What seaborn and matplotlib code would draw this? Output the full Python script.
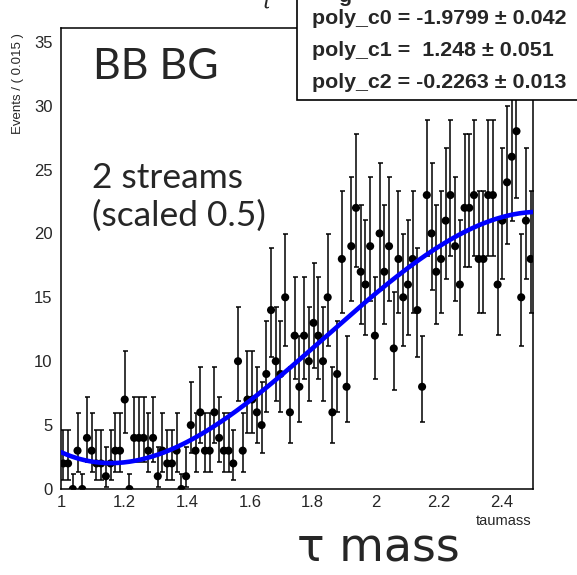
import math
import numpy as np
import pandas as pd
import matplotlib
matplotlib.use("Agg")
import matplotlib.pyplot as plt
from matplotlib.patches import Rectangle
from matplotlib.ticker import MultipleLocator, FormatStrFormatter
import seaborn as sns

# ---------------- data ----------------
x_lo, x_hi = 1.0, 2.5
counts = [2, 2, 0, 3, 0, 4, 3, 2, 2, 1,
          2, 3, 3, 7, 0, 4, 4, 4, 3, 4,
          1, 3, 2, 2, 3, 0, 1, 5, 3, 6,
          3, 3, 6, 4, 3, 3, 2, 10, 3, 7,
          7, 6, 5, 9, 14, 10, 9, 15, 6, 12,
          8, 12, 10, 13, 12, 10, 15, 6, 9, 18,
          8, 19, 22, 17, 16, 19, 12, 20, 17, 19,
          11, 18, 15, 16, 18, 14, 8, 23, 20, 17,
          18, 21, 23, 19, 16, 22, 22, 23, 18, 18,
          23, 23, 16, 21, 24, 26, 28, 15, 21, 18]
poly_names = ["poly_c0", "poly_c1", "poly_c2"]
poly_vals = [-1.9799, 1.248, -0.2263]
poly_val_txt = ["-1.9799", " 1.248", "-0.2263"]
poly_err_txt = ["0.042", "0.051", "0.013"]
x_ticks = [1.0, 1.2, 1.4, 1.6, 1.8, 2.0, 2.2, 2.4]
y_ticks = [0, 5, 10, 15, 20, 25, 30, 35]

nb = len(counts)
bw = (x_hi - x_lo) / nb
centers = x_lo + bw * (np.arange(nb) + 0.5)
counts_arr = np.array(counts, dtype=float)


def pois_cdf(k, mu):
    s, term = 0.0, math.exp(-mu)
    for i in range(k + 1):
        if i > 0:
            term *= mu / i
        s += term
    return s


def bisect(f, a, b):
    for _ in range(80):
        m = 0.5 * (a + b)
        if f(a) * f(m) <= 0:
            b = m
        else:
            a = m
    return 0.5 * (a + b)


def pois_interval(n):
    if n == 0:
        return 0.0, -math.log(1 - 0.6827)
    alpha = (1 - 0.6827) / 2
    up = bisect(lambda mu: pois_cdf(n, mu) - alpha, n, n + 10 * math.sqrt(n) + 10)
    lo = bisect(lambda mu: (1 - pois_cdf(n - 1, mu)) - alpha, 1e-9, n)
    return n - lo, up - n


errs = np.array([pois_interval(int(n)) for n in counts])

# fit curve: N * (1 + c0 x + c1 x^2 + c2 x^3), normalised to data
c0, c1, c2 = poly_vals
def shape(x):
    return 1 + c0 * x + c1 * x ** 2 + c2 * x ** 3
def prim(x):
    return x + c0 * x ** 2 / 2 + c1 * x ** 3 / 3 + c2 * x ** 4 / 4
norm = counts_arr.sum() * bw / (prim(x_hi) - prim(x_lo))
xs = np.linspace(x_lo, x_hi, 400)
curve_df = pd.DataFrame({"x": xs, "y": norm * shape(xs)})
data_df = pd.DataFrame({"x": centers, "y": counts_arr})

# ---------------- plot ----------------
sns.set_style("white")
plt.rcParams["font.family"] = ["Liberation Sans", "DejaVu Sans"]

W, H = 577, 575
fig = plt.figure(figsize=(W / 100, H / 100), dpi=100)
ax = fig.add_axes([61 / W, 1 - 489 / H, 472 / W, (489 - 28.3) / H])

ax.errorbar(data_df["x"], data_df["y"], yerr=[errs[:, 0], errs[:, 1]], fmt="none",
            ecolor="black", elinewidth=1.1, capsize=1.8, capthick=1.1, zorder=2)
sns.scatterplot(data=data_df, x="x", y="y", color="black", s=34, edgecolor="none",
                ax=ax, zorder=3, legend=False)
sns.lineplot(data=curve_df, x="x", y="y", color="#0000ff", lw=3.3, ax=ax, zorder=4,
             legend=False)

ax.set_xlim(x_lo, x_hi)
ax.set_ylim(0, 36.05)
ax.set_xticks(x_ticks)
ax.set_yticks(y_ticks)
ax.xaxis.set_minor_locator(MultipleLocator(0.04))
ax.yaxis.set_minor_locator(MultipleLocator(1))
ax.xaxis.set_major_formatter(FormatStrFormatter("%g"))
ax.tick_params(which="both", direction="in", top=False, right=False, width=1.1,
               labelsize=12)
ax.tick_params(which="major", length=9.5)
ax.tick_params(which="minor", length=4.5)
ax.tick_params(axis="y", pad=6)
ax.tick_params(axis="x", pad=4)
ax.set_xlabel("")
ax.set_ylabel("")
for sp in ax.spines.values():
    sp.set_linewidth(1.1)
    sp.set_color("black")

fig.text(18 / W, 1 - 33 / H, "Events / ( 0.015 )", rotation=90, ha="center", va="top",
         fontsize=9.5)
fig.text(531 / W, 1 - 521 / H, "taumass", ha="right", va="center", fontsize=10.5)

# annotations inside the frame
AH = 489 - 28.3
ax.text((93 - 61) / 472, (489 - 67) / AH, "BB BG", transform=ax.transAxes,
        ha="left", va="center", fontsize=31, family=["Lato", "DejaVu Sans"])
ax.text((92 - 61) / 472, (489 - 178) / AH, "2 streams", transform=ax.transAxes,
        ha="left", va="center", fontsize=25.5, family=["Lato", "DejaVu Sans"])
ax.text((92 - 61) / 472, (489 - 216) / AH, "(scaled 0.5)", transform=ax.transAxes,
        ha="left", va="center", fontsize=25.5, family=["Lato", "DejaVu Sans"])

# clipped remnants of the title above the figure edge
fig.text(266 / W, 1 - 9 / H, "\u03c4", ha="center", va="baseline", fontsize=16,
         family=["DejaVu Serif"], style="italic")

# stats box
box = Rectangle((297 / W, 1 - 100 / H), 1.0, 0.3, transform=fig.transFigure,
                facecolor="white", edgecolor="black", lw=1.2, zorder=5, clip_on=False)
fig.patches.append(box)
fig.text(338 / W, 1 - 2 / H, "g", ha="left", va="baseline", fontsize=15.4,
         fontweight="bold", zorder=6)
line_y = [19, 50, 82]
for name, v, e, yy in zip(poly_names, poly_val_txt, poly_err_txt, line_y):
    fig.text(312 / W, 1 - yy / H, f"{name} = {v} \u00b1 {e}", ha="left", va="center",
             fontsize=15.4, fontweight="bold", zorder=6)

# big axis caption below
fig.text(378 / W, 1 - 549 / H, "\u03c4 mass", ha="center", va="center", fontsize=33,
         family=["DejaVu Sans"])

fig.savefig("out.png", dpi=100)
